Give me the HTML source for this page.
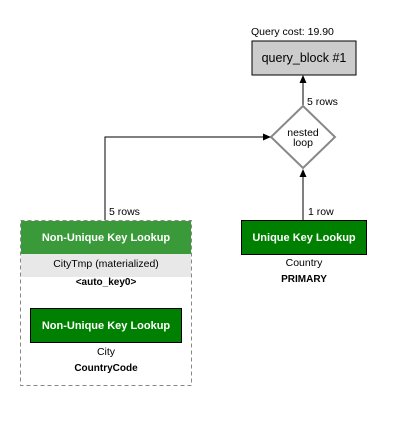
<!DOCTYPE html>
<html><head><style>body{margin:0;background:#fff}</style></head><body>
<svg width="406" height="436" xmlns="http://www.w3.org/2000/svg" font-family="Liberation Sans, sans-serif" font-size="11">
<defs><marker id="a" markerWidth="8" markerHeight="8" refX="7" refY="4" orient="auto" markerUnits="userSpaceOnUse"><path d="M0,0.5 L8,4 L0,7.5z" fill="#000"/></marker></defs>
<rect width="406" height="436" fill="#fff"/>
<text x="251" y="35" font-size="10.5">Query cost: 19.90</text>
<rect x="252" y="41" width="104" height="34" fill="#cccccc" stroke="#000" stroke-width="1"/>
<text x="304" y="62" text-anchor="middle" font-size="12.5">query_block #1</text>
<line x1="303" y1="105" x2="303" y2="76" stroke="#000" marker-end="url(#a)"/>
<text x="307" y="105" font-size="10.5">5 rows</text>
<path d="M303,106 L335,137 L303,168 L271,137z" fill="#fff" stroke="#888" stroke-width="2"/>
<text x="303" y="136" text-anchor="middle" font-size="10.5">nested</text>
<text x="303" y="146" text-anchor="middle" font-size="10.5">loop</text>
<polyline points="105,220 105,137 270,137" fill="none" stroke="#000" marker-end="url(#a)"/>
<line x1="303" y1="220" x2="303" y2="170" stroke="#000" marker-end="url(#a)"/>
<text x="109" y="215" font-size="10.5">5 rows</text>
<text x="308" y="215" font-size="10.5">1 row</text>
<rect x="241.5" y="220.5" width="125" height="34" fill="#008000" stroke="#000"/>
<text x="304" y="241" text-anchor="middle" fill="#fff" font-weight="bold" font-size="11">Unique Key Lookup</text>
<text x="304" y="266" text-anchor="middle" font-size="10.5">Country</text>
<text x="304" y="282" text-anchor="middle" font-size="10" font-weight="bold">PRIMARY</text>
<rect x="20.5" y="220.5" width="171" height="165" fill="#fff" stroke="#888" stroke-dasharray="4,3"/>
<rect x="21" y="221" width="170" height="33" fill="#3a9a3a"/>
<text x="106" y="241" text-anchor="middle" fill="#fff" font-weight="bold" font-size="11">Non-Unique Key Lookup</text>
<rect x="21" y="254" width="170" height="23" fill="#e8e8e8"/>
<text x="106" y="267" text-anchor="middle" font-size="10.5">CityTmp (materialized)</text>
<text x="106" y="285" text-anchor="middle" font-size="10" font-weight="bold">&lt;auto_key0&gt;</text>
<rect x="30.5" y="308.5" width="151" height="34" fill="#008000" stroke="#000"/>
<text x="106" y="329" text-anchor="middle" fill="#fff" font-weight="bold" font-size="11">Non-Unique Key Lookup</text>
<text x="106" y="355" text-anchor="middle" font-size="10.5">City</text>
<text x="106" y="371" text-anchor="middle" font-size="10" font-weight="bold">CountryCode</text>
</svg>
</body></html>
